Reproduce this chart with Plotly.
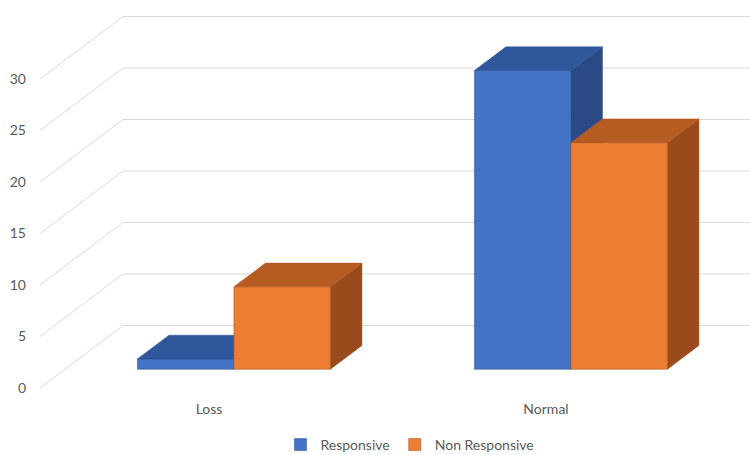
import plotly.graph_objects as go

# values
categories = ["Loss", "Normal"]
responsive = [1, 29]
non_responsive = [8, 22]
y_ticks = [0, 5, 10, 15, 20, 25, 30]

series = [
    # name, values, front, top, side
    ("Responsive", responsive, "#4472C4", "#30569C", "#2B4A85"),
    ("Non Responsive", non_responsive, "#ED7D31", "#B65B21", "#9A4B1C"),
]

### fake 3d geometry (oblique projection, like the excel 3d column chart) ###
W, H = 750, 455
ML, MR, MT, MB = 40, 0, 5, 59
PPX = 337.0          # px per category
PPY = 10.3           # px per value unit
X0_PX, Y0_PX = 209, 388   # front-plane position of category 0 / value 0
DX = 83 / PPX        # full depth shift in x units
DY = 62.5 / PPY      # full depth shift in y units
D0, D1 = 0.30, 0.68  # depth slot used by the bars
BW = 96.5 / PPX      # bar width

x_min = (ML - X0_PX) / PPX
x_max = (W - MR - X0_PX) / PPX
y_max = (Y0_PX - MT) / PPY
y_min = -(H - MB - Y0_PX) / PPY

xpos = list(range(len(categories)))

fig = go.Figure()
shapes = []

### gridlines: diagonal on the floor side, then flat on the back wall ###
for v in y_ticks:
    shapes.append(dict(type="path", layer="below", xref="x", yref="y",
                       path=f"M {x_min},{v} L {x_min + DX},{v + DY} L {x_max},{v + DY}",
                       line=dict(color="#D9D9D9", width=1)))

def poly(pts):
    return "M " + " L ".join(f"{a},{b}" for a, b in pts) + " Z"

for i, c in enumerate(xpos):
    for k, (name, vals, front, top, side) in enumerate(series):
        v = vals[i]
        xl = c - BW if k == 0 else c
        xr = xl + BW
        top_pts = [(xl + D0 * DX, v + D0 * DY), (xr + D0 * DX, v + D0 * DY),
                   (xr + D1 * DX, v + D1 * DY), (xl + D1 * DX, v + D1 * DY)]
        side_pts = [(xr + D0 * DX, D0 * DY), (xr + D1 * DX, D1 * DY),
                    (xr + D1 * DX, v + D1 * DY), (xr + D0 * DX, v + D0 * DY)]
        shapes.append(dict(type="path", layer="below", xref="x", yref="y",
                           path=poly(side_pts), fillcolor=side,
                           line=dict(color=side, width=0.5)))
        shapes.append(dict(type="path", layer="below", xref="x", yref="y",
                           path=poly(top_pts), fillcolor=top,
                           line=dict(color=top, width=0.5)))

### front faces of the columns ###
for k, (name, vals, front, top, side) in enumerate(series):
    off = -BW / 2 if k == 0 else BW / 2
    fig.add_trace(go.Bar(
        name=name,
        x=[c + off + D0 * DX for c in xpos],
        y=vals,
        base=[D0 * DY] * len(vals),
        width=BW,
        marker=dict(color=front, line=dict(color=side, width=0.5)),
        hoverinfo="skip",
    ))

fig.update_layout(
    width=W, height=H,
    margin=dict(l=ML, r=MR, t=MT, b=MB, autoexpand=False),
    paper_bgcolor="white", plot_bgcolor="white",
    barmode="overlay",
    shapes=shapes,
    font=dict(family="Lato, Carlito, sans-serif", size=14, color="#595959"),
    showlegend=True,
    legend=dict(orientation="h", xref="container", yref="container",
                x=410 / W, xanchor="center", y=1 - 445 / H, yanchor="middle",
                font=dict(size=14, color="#595959"), itemwidth=30,
                traceorder="normal"),
    xaxis=dict(range=[x_min, x_max], tickvals=xpos, ticktext=categories,
               showgrid=False, zeroline=False, showline=False, ticks="",
               ticklabelstandoff=3, automargin=False, fixedrange=True),
    yaxis=dict(range=[y_min, y_max], tickvals=y_ticks,
               showgrid=False, zeroline=False, showline=False, ticks="",
               ticklabelstandoff=13, automargin=False, fixedrange=True),
)

# page body has an 8px default margin, drop it so the figure sits at 0,0
fig.write_html("out.html", config={"displayModeBar": False},
               post_script="document.body.style.margin='0';")
